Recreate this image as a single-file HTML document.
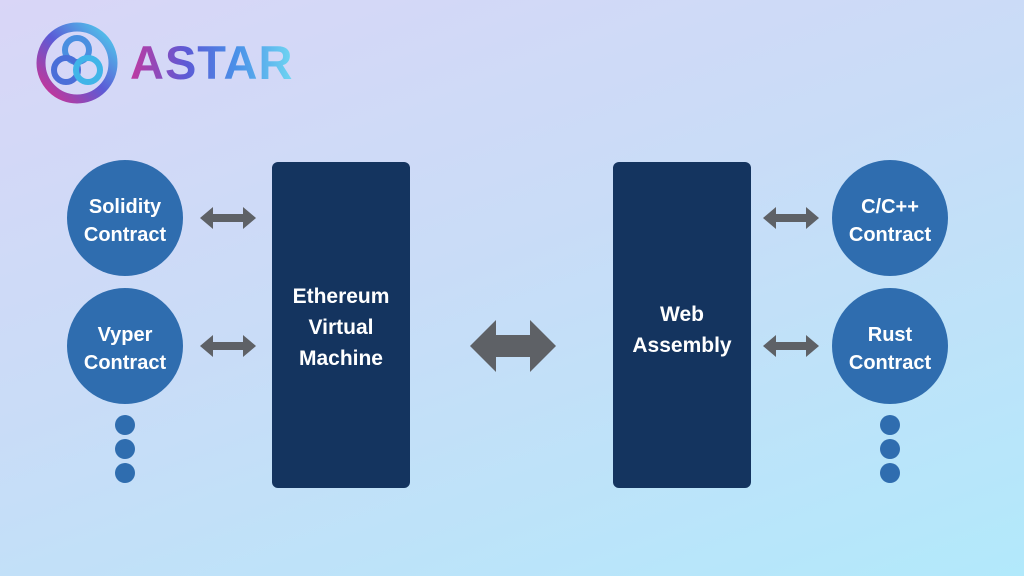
<!DOCTYPE html>
<html><head><style>
body{margin:0;width:1024px;height:576px;overflow:hidden;background:linear-gradient(160deg,#d9d6f7 0%,#c9dcf7 45%,#b2e9fb 100%);font-family:"Liberation Sans",sans-serif;position:relative}
.c{position:absolute;width:116px;height:116px;border-radius:50%;background:#2f6daf;color:#fff;font-weight:bold;font-size:20px;line-height:28px;display:flex;align-items:center;justify-content:center;text-align:center;box-sizing:border-box;padding-top:6px}
.d{position:absolute;width:20px;height:20px;border-radius:50%;background:#2f6daf}
.b{position:absolute;top:162px;width:138px;height:326px;background:#14345f;border-radius:6px;color:#fff;font-weight:bold;font-size:21px;line-height:31px;display:flex;align-items:center;justify-content:center;text-align:center;box-sizing:border-box;padding-top:4px}
svg{position:absolute}
</style></head><body>
<svg style="left:34px;top:20px" width="86" height="86" viewBox="0 0 86 86">
<defs><linearGradient id="g" x1="0" y1="1" x2="1" y2="0"><stop offset="0" stop-color="#d6308f"/><stop offset=".5" stop-color="#5b5bd6"/><stop offset="1" stop-color="#4fd3ee"/></linearGradient></defs>
<circle cx="43" cy="43" r="36" fill="none" stroke="url(#g)" stroke-width="9"/>
<circle cx="43" cy="30" r="12" fill="none" stroke="#4a8fe0" stroke-width="6"/>
<circle cx="32" cy="50" r="12" fill="none" stroke="#4a6fd8" stroke-width="6"/>
<circle cx="54" cy="50" r="12" fill="none" stroke="#40b5e8" stroke-width="6"/>
</svg>
<div style="position:absolute;left:130px;top:35px;font-size:47px;font-weight:bold;letter-spacing:1px;background:linear-gradient(90deg,#c03aa0,#5b5bd6 35%,#4a90e8 65%,#6fd6f2);-webkit-background-clip:text;color:transparent">ASTAR</div>
<div class="c" style="left:67px;top:160px">Solidity<br>Contract</div>
<div class="c" style="left:67px;top:288px">Vyper<br>Contract</div>
<div class="d" style="left:115px;top:415px"></div><div class="d" style="left:115px;top:439px"></div><div class="d" style="left:115px;top:463px"></div>
<div class="c" style="left:832px;top:160px">C/C++<br>Contract</div>
<div class="c" style="left:832px;top:288px">Rust<br>Contract</div>
<div class="d" style="left:880px;top:415px"></div><div class="d" style="left:880px;top:439px"></div><div class="d" style="left:880px;top:463px"></div>
<div class="b" style="left:272px">Ethereum<br>Virtual<br>Machine</div>
<div class="b" style="left:613px;padding-top:10px">Web<br>Assembly</div>
<svg width="1024" height="576" style="left:0;top:0">
<g fill="#5e6166">
<path id="s" d="M200 218 l13 -11 v7 h30 v-7 l13 11 l-13 11 v-7 h-30 v7 z"/>
<use href="#s" y="128"/>
<use href="#s" x="563"/>
<use href="#s" x="563" y="128"/>
<path d="M470 346 l26 -26 v15 h34 v-15 l26 26 l-26 26 v-15 h-34 v15 z"/>
</g></svg>
</body></html>
